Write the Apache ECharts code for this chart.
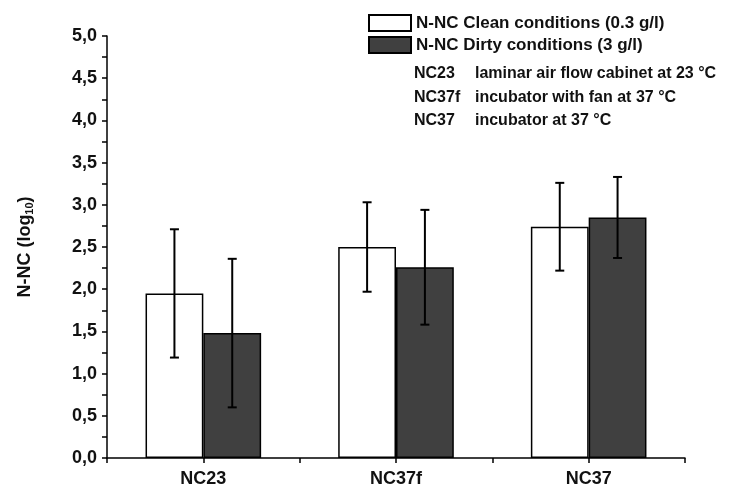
<!DOCTYPE html>
<html>
<head>
<meta charset="utf-8">
<script src="https://cdn.jsdelivr.net/npm/echarts@6/dist/echarts.min.js"></script>
<style>
  html, body { margin: 0; padding: 0; background: #fff; }
  #chart { width: 753px; height: 492px; }
</style>
</head>
<body>
<div id="chart"></div>
<script>
// categories and values (log10 counts), error = +/- SD
const categories = ['NC23', 'NC37f', 'NC37']
const cleanMean = [1.95, 2.50, 2.74]
const cleanErr = [0.76, 0.53, 0.52]
const dirtyMean = [1.48, 2.26, 2.85]
const dirtyErr = [0.88, 0.68, 0.48]
const seriesNames = ['N-NC Clean conditions (0.3 g/l)', 'N-NC Dirty conditions (3 g/l)']
const noteCodes = ['NC23', 'NC37f', 'NC37']
const noteTexts = ['laminar air flow cabinet at 23 °C', 'incubator with fan at 37 °C', 'incubator at 37 °C']

const FONT = '"Liberation Sans", Arial, sans-serif'
const BAR_FRAC = 0.3

const chart = echarts.init(document.getElementById('chart'))

// error bar data: [categoryIndex, low, high, side]
const errData = []
categories.forEach((c, i) => {
  errData.push([i, cleanMean[i] - cleanErr[i], cleanMean[i] + cleanErr[i], -1])
  errData.push([i, dirtyMean[i] - dirtyErr[i], dirtyMean[i] + dirtyErr[i], 1])
})

const renderErr = (params, api) => {
  const band = api.size([1, 0])[0]
  const dx = api.value(3) * band * BAR_FRAC / 2
  const lo = api.coord([api.value(0), api.value(1)])
  const hi = api.coord([api.value(0), api.value(2)])
  const x = lo[0] + dx
  const cap = 4.5
  const style = { stroke: '#000', lineWidth: 2 }
  return {
    type: 'group',
    children: [
      { type: 'line', shape: { x1: x, y1: lo[1], x2: x, y2: hi[1] }, style },
      { type: 'line', shape: { x1: x - cap, y1: lo[1], x2: x + cap, y2: lo[1] }, style },
      { type: 'line', shape: { x1: x - cap, y1: hi[1], x2: x + cap, y2: hi[1] }, style }
    ]
  }
}

const notes = []
noteCodes.forEach((code, i) => {
  notes.push({ type: 'text', left: 414, top: 66 + i * 23.5, style: { text: code, font: 'bold 16px ' + FONT, fill: '#111' } })
  notes.push({ type: 'text', left: 475, top: 66 + i * 23.5, style: { text: noteTexts[i], font: 'bold 16px ' + FONT, fill: '#111' } })
})

const option = {
  animation: false,
  backgroundColor: '#fff',
  grid: { left: 107, right: 68, top: 36, bottom: 34 },
  legend: {
    data: seriesNames,
    orient: 'vertical',
    left: 368,
    top: 14,
    padding: 0,
    icon: 'rect',
    itemWidth: 42,
    itemHeight: 16,
    itemGap: 4,
    textStyle: { fontFamily: FONT, fontWeight: 'bold', fontSize: 17, color: '#111' }
  },
  graphic: notes,
  xAxis: [
    {
      type: 'category',
      data: categories,
      axisLine: { lineStyle: { color: '#000', width: 1.5 } },
      axisTick: { alignWithLabel: true, length: 8, lineStyle: { color: '#000', width: 1.5 } },
      axisLabel: { fontFamily: FONT, fontWeight: 'bold', fontSize: 18, color: '#111', margin: 12 }
    },
    {
      type: 'value',
      min: 0,
      max: 6,
      interval: 1,
      position: 'bottom',
      axisLine: { show: false },
      axisTick: { show: true, length: 5, lineStyle: { color: '#000', width: 1.5 } },
      axisLabel: { show: false },
      splitLine: { show: false }
    }
  ],
  yAxis: {
    type: 'value',
    min: 0,
    max: 5,
    interval: 0.5,
    name: '{a|N-NC (log}{s|10}{a|)}',
    nameLocation: 'middle',
    nameRotate: 90,
    nameGap: 71,
    nameTextStyle: {
      rich: {
        a: { fontFamily: FONT, fontWeight: 'bold', fontSize: 18, color: '#111', lineHeight: 22 },
        s: { fontFamily: FONT, fontWeight: 'bold', fontSize: 11, color: '#111', padding: [10, 0, 0, 0], lineHeight: 22 }
      }
    },
    axisLine: { show: true, lineStyle: { color: '#000', width: 1.5 } },
    axisTick: { show: true, length: 5, lineStyle: { color: '#000', width: 1.5 } },
    minorTick: { show: true, splitNumber: 2, length: 5, lineStyle: { color: '#000', width: 1.5 } },
    splitLine: { show: false },
    axisLabel: {
      fontFamily: FONT, fontWeight: 'bold', fontSize: 18, color: '#111', margin: 10,
      formatter: v => v.toFixed(1).replace('.', ',')
    }
  },
  series: [
    {
      name: seriesNames[0],
      type: 'bar',
      data: cleanMean,
      barWidth: (BAR_FRAC * 100) + '%',
      barGap: '0%',
      itemStyle: { color: '#fff', borderColor: '#000', borderWidth: 1.5 }
    },
    {
      name: seriesNames[1],
      type: 'bar',
      data: dirtyMean,
      barWidth: (BAR_FRAC * 100) + '%',
      barGap: '0%',
      itemStyle: { color: '#404040', borderColor: '#000', borderWidth: 1.5 }
    },
    {
      type: 'custom',
      renderItem: renderErr,
      data: errData,
      encode: { x: 0, y: [1, 2] },
      z: 10
    }
  ]
}

chart.setOption(option)
</script>
</body>
</html>
